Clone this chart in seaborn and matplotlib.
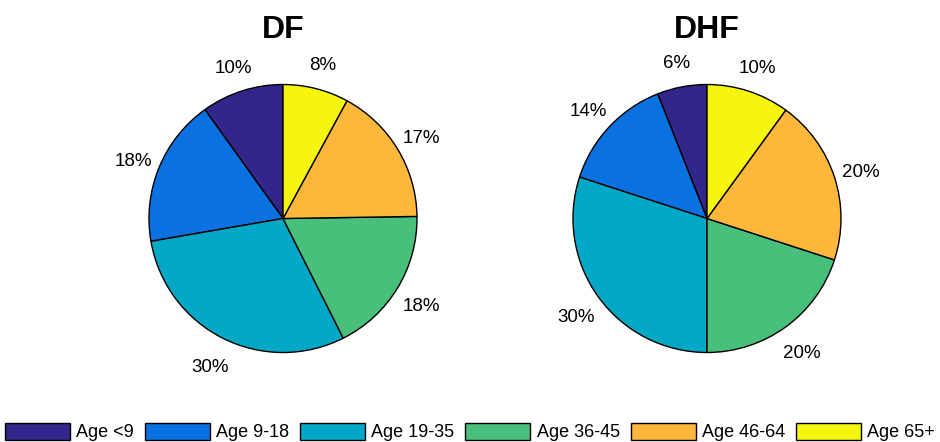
import matplotlib
matplotlib.use("Agg")
import matplotlib.pyplot as plt
import matplotlib.transforms as mtransforms
from matplotlib.patches import Patch
import seaborn as sns

sns.set_theme(style="white")
plt.rcParams["font.family"] = ["Liberation Sans", "DejaVu Sans"]
plt.rcParams["text.color"] = "black"

age_groups = ["Age <9", "Age 9-18", "Age 19-35", "Age 36-45", "Age 46-64", "Age 65+"]
df_pct = [10, 18, 30, 18, 17, 8]
dhf_pct = [6, 14, 30, 20, 20, 10]
panel_titles = ["DF", "DHF"]

colors = ["#33268A", "#0A72E0", "#02A8C6", "#48BF7A", "#FDB73A", "#F5F510"]

W, H = 940, 442
fig = plt.figure(figsize=(W / 100, H / 100), dpi=100)

R = 134  # pie radius in pixels
span = 1.5
centers = [(283, 218.5), (707, 218.5)]

for (cx, cy), values, title in zip(centers, [df_pct, dhf_pct], panel_titles):
    half = R * span
    ax = fig.add_axes([(cx - half) / W, (H - cy - half) / H, 2 * half / W, 2 * half / H])
    wedges, texts = ax.pie(
        values,
        labels=[f"{v}%" for v in values],
        colors=colors,
        startangle=90,
        counterclock=True,
        labeldistance=1.21,
        wedgeprops=dict(edgecolor="black", linewidth=1.0),
        textprops=dict(fontsize=13.5, color="black"),
    )
    shift = mtransforms.ScaledTranslation(0, -4 / 100, fig.dpi_scale_trans)
    for t in texts:
        t.set_ha("center")
        t.set_va("center")
        t.set_transform(t.get_transform() + shift)
    ax.set_xlim(-span, span)
    ax.set_ylim(-span, span)
    ax.set_aspect("equal")
    ax.axis("off")
    fig.text(cx / W, 1 - 30 / H, title, ha="center", va="center",
             fontsize=23, fontweight="bold", color="black")

handles = [Patch(facecolor=c, edgecolor="black", linewidth=1.0) for c in colors]
leg = fig.legend(handles, age_groups, loc="lower center", bbox_to_anchor=(0.5, -0.015),
                 ncol=6, frameon=False, fontsize=13, handlelength=3.6, handleheight=1.1,
                 handletextpad=0.35, columnspacing=0.6, borderaxespad=0.0)
for t in leg.get_texts():
    t.set_color("black")

fig.savefig("out.png", dpi=100)
